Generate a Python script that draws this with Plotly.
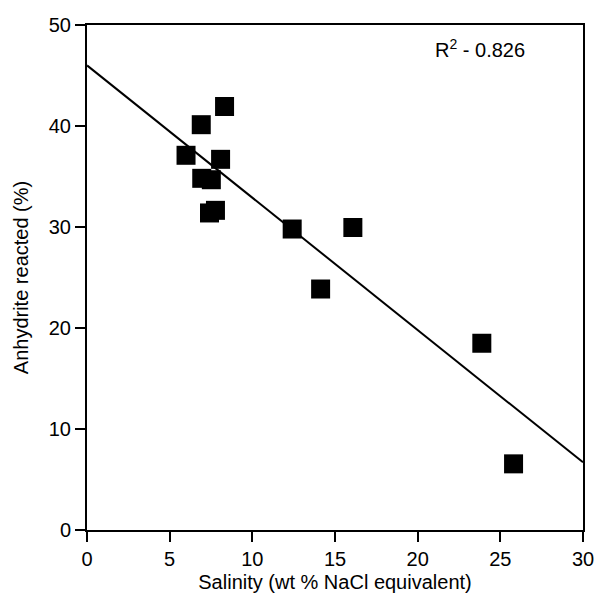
import plotly.graph_objects as go

salinity = [5.99, 6.91, 8.32, 6.94, 7.52, 8.08, 7.41, 7.77, 12.41, 16.08, 14.13, 23.88, 25.80]
anhydrite = [37.1, 40.13, 41.93, 34.82, 34.68, 36.70, 31.39, 31.65, 29.80, 29.95, 23.86, 18.49, 6.55]
fit_x = [0, 30]
fit_y = [46.0, 6.7]

FONT = "Liberation Sans, Arial, Helvetica"

fig = go.Figure()
fig.add_trace(go.Scatter(x=fit_x, y=fit_y, mode="lines",
                         line=dict(color="black", width=2), showlegend=False))
fig.add_trace(go.Scatter(x=salinity, y=anhydrite, mode="markers",
                         marker=dict(symbol="square", size=19, color="black"),
                         showlegend=False))

axis_common = dict(showline=True, linecolor="black", linewidth=2, mirror=True,
                   ticks="outside", ticklen=10, tickwidth=2, tickcolor="black",
                   showgrid=False, zeroline=False, automargin=False,
                   tickfont=dict(family=FONT, size=20, color="black"),
                   title_font=dict(family=FONT, size=20, color="black"))

fig.update_xaxes(range=[0, 30], tickvals=[0, 5, 10, 15, 20, 25, 30],
                 title_text="Salinity (wt % NaCl equivalent)", title_standoff=6, **axis_common)
fig.update_yaxes(range=[0, 50], tickvals=[0, 10, 20, 30, 40, 50],
                 title_text="Anhydrite reacted (%)", title_standoff=15, **axis_common)

fig.add_annotation(x=20.9, y=47.7, xref="x", yref="y", xanchor="left", yanchor="middle",
                   text="R<sup>2</sup> - 0.826", showarrow=False,
                   font=dict(family=FONT, size=20, color="black"))

fig.update_layout(width=596, height=598, margin=dict(l=87, r=13, t=25, b=68),
                  plot_bgcolor="white", paper_bgcolor="white")

fig.write_html("out.html", config={"displayModeBar": False},
               post_script="document.body.style.margin='0';document.body.style.overflow='hidden';")
